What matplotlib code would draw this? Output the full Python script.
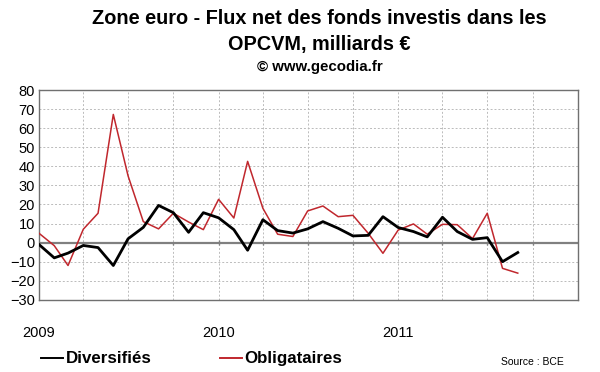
import numpy as np
import pandas as pd
import matplotlib
matplotlib.use("Agg")
import matplotlib.pyplot as plt

plt.rcParams['font.family'] = ['Liberation Sans', 'DejaVu Sans']

# monthly data, Jan 2009 -> Sep 2011 (billions EUR)
months = pd.date_range("2009-01-01", periods=33, freq="MS")
diversifies = [-1, -8, -5.5, -1.5, -2.6, -12, 2, 8, 19.5, 15.7, 5.4, 15.7,
               13, 6.8, -4, 12, 6.3, 5, 7.2, 11, 7.5, 3.5, 3.8, 13.6,
               7.9, 5.8, 3, 13.3, 5.8, 1.7, 2.6, -10, -5.2]
obligataires = [4.9, -1.6, -12, 7, 15.4, 67.2, 35, 11, 7.2, 15.4, 10.8, 6.8,
                22.7, 12.9, 42.6, 18, 4.4, 3.2, 16.6, 19.2, 13.6, 14.3, 4.9, -5.6,
                6.6, 9.8, 4.4, 9.6, 9.4, 2.1, 15.4, -13.5, -16]
year_labels = ["2009", "2010", "2011"]

fig = plt.figure(figsize=(6, 3.72), dpi=100)
ax = fig.add_axes([0.065, 0.194, 0.898, 0.564])

ax.plot(months, diversifies, color="black", lw=2, label="Diversifiés", zorder=4)
ax.plot(months, obligataires, color="#c0272d", lw=1.1, label="Obligataires", zorder=3)

ax.set_ylim(-30, 80)
ax.set_yticks(np.arange(-30, 81, 10))
ax.set_xlim(pd.Timestamp("2009-01-01"), pd.Timestamp("2012-01-01"))

quarters = pd.date_range("2009-01-01", "2012-01-01", freq="QS")
ax.set_xticks(quarters, minor=True)
ax.set_xticks([pd.Timestamp(y + "-01-01") for y in year_labels])
ax.set_xticklabels(year_labels)
ax.grid(True, which="both", axis="x", color="#bbbbbb", ls=(0, (2, 2)), lw=0.7)
ax.grid(True, which="major", axis="y", color="#bbbbbb", ls=(0, (2, 2)), lw=0.7)
ax.set_axisbelow(True)

# zero line with small quarter ticks
ax.axhline(0, color="#808080", lw=1.6, zorder=2)
for q in quarters[1:-1]:
    if q.month == 1:
        ax.vlines(q, -1.5, 1.5, color="#808080", lw=1, zorder=2)
    else:
        ax.vlines(q, -1.5, 0, color="#808080", lw=1, zorder=2)

ax.tick_params(axis="both", which="both", length=0, labelsize=10.5, colors="black")
ax.tick_params(axis="x", pad=19)
ax.tick_params(axis="y", pad=3)
for s in ax.spines.values():
    s.set_color("#707070")
    s.set_linewidth(1)

fig.text(0.533, 0.951, "Zone euro - Flux net des fonds investis dans les",
         ha="center", va="center", fontsize=14.3, fontweight="bold")
fig.text(0.533, 0.881, "OPCVM, milliards €",
         ha="center", va="center", fontsize=14.3, fontweight="bold")
fig.text(0.533, 0.82, "© www.gecodia.fr",
         ha="center", va="center", fontsize=10.8, fontweight="bold")

leg = fig.legend(loc="center left", bbox_to_anchor=(0.043, 0.035), ncol=2, frameon=False,
                 prop={"weight": "bold", "size": 12.2}, handlelength=1.3,
                 handletextpad=0.17, columnspacing=4.0)
for h in leg.get_lines():
    h.set_linewidth(1.4)
fig.text(0.94, 0.027, "Source : BCE", ha="right", va="center", fontsize=7.5,
         family=["Liberation Sans Narrow", "Liberation Sans"])

fig.savefig("out.png", dpi=100)
